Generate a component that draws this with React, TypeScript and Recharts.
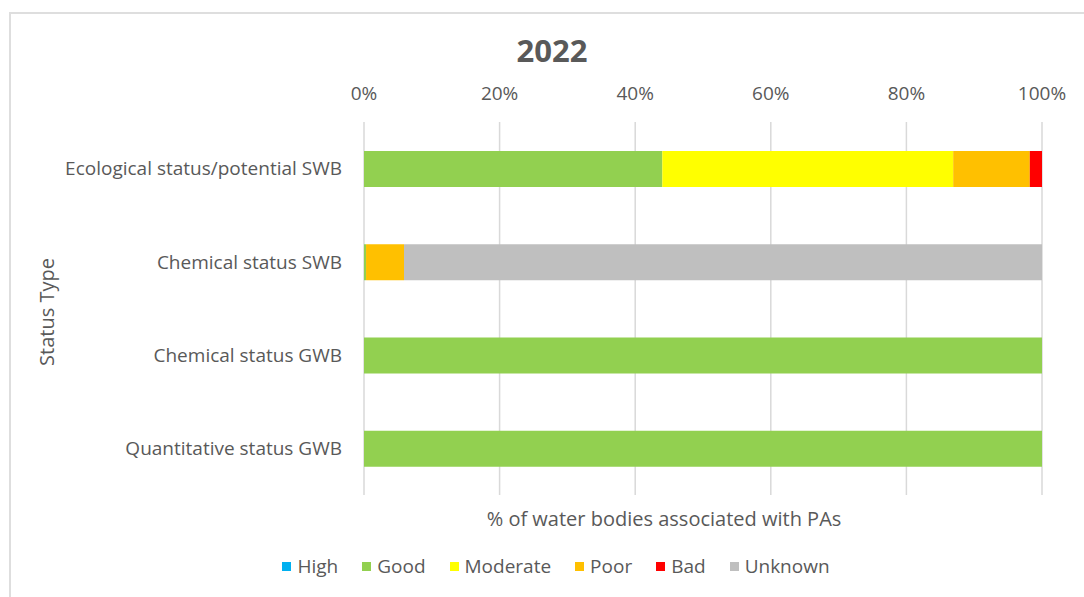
import { Bar, BarChart, CartesianGrid, Legend, XAxis, YAxis } from "recharts";

const categories = [
  "Ecological status/potential SWB",
  "Chemical status SWB",
  "Chemical status GWB",
  "Quantitative status GWB",
];
const high = [0, 0, 0, 0];
const good = [44.0, 0.3, 100, 100];
const moderate = [42.9, 0, 0, 0];
const poor = [11.3, 5.6, 0, 0];
const bad = [1.8, 0, 0, 0];
const unknown = [0, 94.1, 0, 0];

const xTicks = [0, 20, 40, 60, 80, 100];

const series = [
  { key: "High", values: high, color: "#00b0f0" },
  { key: "Good", values: good, color: "#92d050" },
  { key: "Moderate", values: moderate, color: "#ffff00" },
  { key: "Poor", values: poor, color: "#ffc000" },
  { key: "Bad", values: bad, color: "#ff0000" },
  { key: "Unknown", values: unknown, color: "#bfbfbf" },
];

const data = categories.map((name, i) => {
  const row: Record<string, string | number> = { name };
  series.forEach((s) => (row[s.key] = s.values[i]));
  return row;
});

const font = '"Open Sans", sans-serif';
const grey = "#595959";

// keep legend in series order (recharts sorts payload by name)
function LegendRow() {
  return (
    <div style={{ display: "flex", justifyContent: "center", gap: 24, fontFamily: font, fontSize: 19, color: grey }}>
      {series.map((s) => (
        <div key={s.key} style={{ display: "flex", alignItems: "center" }}>
          <span style={{ width: 9, height: 9, background: s.color, marginRight: 6, display: "inline-block" }} />
          <span>{s.key}</span>
        </div>
      ))}
    </div>
  );
}

export default function App() {
  return (
    <div
      style={{
        position: "absolute",
        left: 0,
        top: 0,
        width: 1084,
        height: 597,
        overflow: "hidden",
        background: "#fff",
      }}
    >
      <div
        style={{
          position: "absolute",
          left: 9,
          top: 12,
          width: 1200,
          height: 800,
          border: "2px solid #dedede",
        }}
      />
      <div
        style={{
          position: "absolute",
          left: 452,
          width: 200,
          top: 29,
          textAlign: "center",
          fontFamily: font,
          fontWeight: 700,
          fontSize: 31,
          color: grey,
        }}
      >
        2022
      </div>
      <div
        style={{
          position: "absolute",
          left: 364,
          width: 600,
          top: 505,
          textAlign: "center",
          fontFamily: font,
          fontSize: 20,
          color: grey,
        }}
      >
        % of water bodies associated with PAs
      </div>
      <div
        style={{
          position: "absolute",
          left: 46,
          top: 312,
          transform: "translate(-50%, -50%) rotate(-90deg)",
          whiteSpace: "nowrap",
          fontFamily: font,
          fontSize: 20,
          color: grey,
        }}
      >
        Status Type
      </div>
      <div style={{ position: "absolute", left: 0, top: 0 }}>
        <BarChart
          width={1084}
          height={597}
          data={data}
          layout="vertical"
          margin={{ top: 72, right: 42, bottom: 102, left: 0 }}
        >
          <CartesianGrid horizontal={false} stroke="#d9d9d9" strokeWidth={1.5} />
          <XAxis
            type="number"
            orientation="top"
            domain={[0, 100]}
            ticks={xTicks}
            tickFormatter={(v: number) => `${v}%`}
            axisLine={false}
            tickLine={false}
            tickSize={0}
            tickMargin={22}
            height={50}
            tick={{ fill: grey, fontSize: 19, fontFamily: font }}
          />
          <YAxis
            type="category"
            dataKey="name"
            width={364}
            axisLine={false}
            tickLine={false}
            tickSize={0}
            tickMargin={22}
            tick={{ fill: grey, fontSize: 19, fontFamily: font }}
          />
          <Legend
            verticalAlign="middle"
            align="center"
            layout="horizontal"
            wrapperStyle={{ top: 553, left: 0, width: 1112 }}
            content={() => <LegendRow />}
          />
          {series.map((s) => (
            <Bar
              key={s.key}
              dataKey={s.key}
              stackId="a"
              fill={s.color}
              barSize={36}
              isAnimationActive={false}
            />
          ))}
        </BarChart>
      </div>
    </div>
  );
}
